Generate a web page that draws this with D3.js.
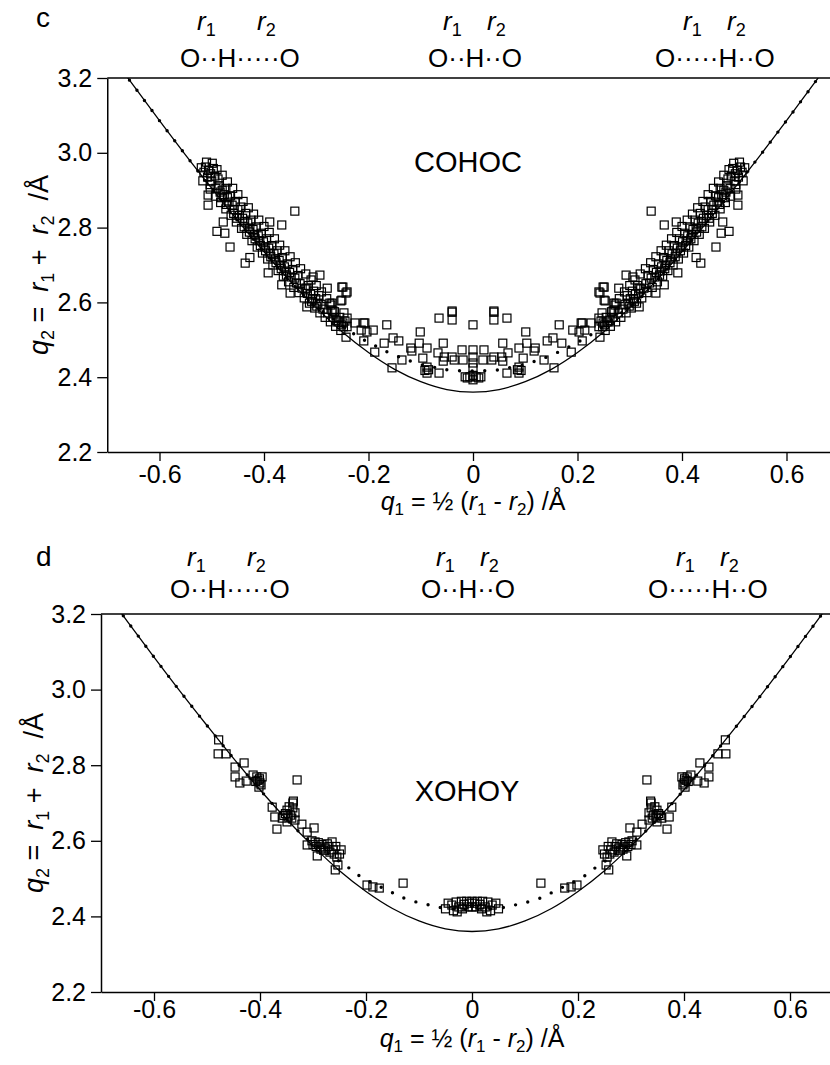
<!DOCTYPE html>
<html><head><meta charset="utf-8">
<script src="https://cdn.jsdelivr.net/npm/d3@7"></script>
<style>
body{margin:0;background:#fff}
svg{display:block}
text{font-family:"Liberation Sans",Arial,Helvetica,sans-serif;fill:#000}
</style>
</head><body>
<svg id="chart" width="830" height="1065"></svg>
<script>
// ---------- data ----------
const xTicks = [-0.6, -0.4, -0.2, 0, 0.2, 0.4, 0.6];
const xTickLabels = ["-0.6", "-0.4", "-0.2", "0", "0.2", "0.4", "0.6"];
const yTicks = [2.2, 2.4, 2.6, 2.8, 3.0, 3.2];
const yTickLabels = ["2.2", "2.4", "2.6", "2.8", "3.0", "3.2"];
const panelLetters = ["c", "d"];
const panelNames = ["COHOC", "XOHOY"];
const moleculeLabels = ["O\u00B7\u00B7H\u00B7\u00B7\u00B7\u00B7\u00B7O", "O\u00B7\u00B7H\u00B7\u00B7O", "O\u00B7\u00B7\u00B7\u00B7\u00B7H\u00B7\u00B7O"];

// correlation curve q2(q1)
const solidCurve = [[-0.70,3.276],[-0.65,3.180],[-0.60,3.086],[-0.55,2.994],[-0.50,2.905],[-0.45,2.818],[-0.40,2.735],[-0.35,2.657],[-0.30,2.586],[-0.25,2.521],[-0.20,2.466],[-0.15,2.421],[-0.10,2.388],[-0.05,2.367],[0,2.360],[0.05,2.367],[0.10,2.388],[0.15,2.421],[0.20,2.466],[0.25,2.521],[0.30,2.586],[0.35,2.657],[0.40,2.735],[0.45,2.818],[0.50,2.905],[0.55,2.994],[0.60,3.086],[0.65,3.180],[0.70,3.276]];

// dotted (corrected) curves
const cohocDotted = [[-0.70,3.276],[-0.65,3.180],[-0.60,3.086],[-0.55,2.994],[-0.50,2.905],[-0.45,2.818],[-0.40,2.735],[-0.34,2.641],[-0.31,2.600],[-0.285,2.573],[-0.26,2.548],[-0.235,2.522],[-0.209,2.500],[-0.186,2.483],[-0.163,2.467],[-0.136,2.451],[-0.115,2.441],[-0.09,2.430],[-0.067,2.425],[-0.046,2.419],[0,2.417],[0.046,2.419],[0.067,2.425],[0.09,2.430],[0.115,2.441],[0.136,2.451],[0.163,2.467],[0.186,2.483],[0.209,2.500],[0.235,2.522],[0.26,2.548],[0.285,2.573],[0.31,2.600],[0.34,2.641],[0.40,2.735],[0.45,2.818],[0.50,2.905],[0.55,2.994],[0.60,3.086],[0.65,3.180],[0.70,3.276]];
const xohoyDotted = [[-0.70,3.276],[-0.65,3.180],[-0.60,3.086],[-0.55,2.994],[-0.50,2.905],[-0.45,2.818],[-0.40,2.735],[-0.35,2.657],[-0.32,2.616],[-0.29,2.583],[-0.26,2.555],[-0.232,2.528],[-0.209,2.504],[-0.185,2.486],[-0.160,2.470],[-0.138,2.454],[-0.113,2.441],[-0.089,2.433],[-0.066,2.425],[-0.03,2.419],[0,2.418],[0.03,2.419],[0.066,2.425],[0.089,2.433],[0.113,2.441],[0.138,2.454],[0.160,2.470],[0.185,2.486],[0.209,2.504],[0.232,2.528],[0.26,2.555],[0.29,2.583],[0.32,2.616],[0.35,2.657],[0.40,2.735],[0.45,2.818],[0.50,2.905],[0.55,2.994],[0.60,3.086],[0.65,3.180],[0.70,3.276]];

// COHOC structures, q1 < 0
const cohocLeft = [[-0.520,2.960],[-0.515,2.948],[-0.512,2.962],[-0.506,2.953],[-0.508,2.935],[-0.502,2.944],[-0.497,2.958],[-0.500,2.925],[-0.494,2.938],[-0.503,2.915],[-0.488,2.930],[-0.492,2.905],[-0.486,2.912],[-0.484,2.895],[-0.480,2.900],[-0.476,2.888],[-0.482,2.880],[-0.473,2.905],[-0.470,2.880],[-0.467,2.868],[-0.472,2.862],[-0.464,2.885],[-0.461,2.860],[-0.457,2.848],[-0.455,2.870],[-0.458,2.838],[-0.450,2.848],[-0.447,2.832],[-0.452,2.825],[-0.444,2.855],[-0.441,2.825],[-0.437,2.815],[-0.435,2.838],[-0.438,2.802],[-0.431,2.812],[-0.427,2.798],[-0.425,2.820],[-0.428,2.788],[-0.421,2.795],[-0.418,2.782],[-0.415,2.802],[-0.417,2.770],[-0.411,2.778],[-0.408,2.765],[-0.405,2.785],[-0.407,2.752],[-0.401,2.762],[-0.398,2.748],[-0.395,2.770],[-0.397,2.738],[-0.391,2.745],[-0.388,2.732],[-0.385,2.752],[-0.387,2.722],[-0.381,2.730],[-0.378,2.716],[-0.375,2.738],[-0.377,2.706],[-0.371,2.712],[-0.368,2.700],[-0.365,2.720],[-0.367,2.690],[-0.361,2.695],[-0.358,2.684],[-0.355,2.703],[-0.357,2.673],[-0.351,2.680],[-0.348,2.668],[-0.345,2.688],[-0.341,2.665],[-0.338,2.652],[-0.335,2.672],[-0.331,2.650],[-0.327,2.638],[-0.321,2.636],[-0.317,2.624],[-0.315,2.645],[-0.311,2.622],[-0.307,2.610],[-0.305,2.630],[-0.309,2.603],[-0.301,2.610],[-0.297,2.598],[-0.295,2.618],[-0.299,2.590],[-0.291,2.595],[-0.287,2.582],[-0.278,2.572],[-0.268,2.560],[-0.265,2.575],[-0.262,2.552],[-0.258,2.548],[-0.255,2.560],[-0.252,2.540],[-0.248,2.535],[-0.245,2.550],
[-0.517,2.925],[-0.510,2.975],[-0.503,2.903],[-0.499,2.972],[-0.493,2.884],[-0.490,2.955],[-0.483,2.867],[-0.480,2.940],[-0.473,2.850],[-0.470,2.922],[-0.463,2.833],[-0.460,2.905],[-0.453,2.815],[-0.450,2.888],[-0.443,2.798],[-0.440,2.870],[-0.433,2.782],[-0.430,2.853],[-0.423,2.765],[-0.420,2.836],[-0.413,2.748],[-0.410,2.820],[-0.403,2.732],[-0.400,2.803],[-0.393,2.716],[-0.390,2.787],[-0.383,2.700],[-0.380,2.770],[-0.373,2.685],[-0.370,2.753],[-0.363,2.670],[-0.360,2.738],[-0.353,2.655],[-0.350,2.722],[-0.343,2.640],[-0.340,2.706],[-0.333,2.626],[-0.330,2.690],[-0.323,2.612],[-0.320,2.676],[-0.313,2.598],[-0.310,2.660],[-0.303,2.585],[-0.300,2.645],[-0.293,2.572],[-0.290,2.628],[-0.283,2.560],[-0.280,2.610],[-0.273,2.548],[-0.270,2.598],[-0.263,2.536],[-0.253,2.525],
[-0.341,2.844],[-0.478,2.815],[-0.490,2.790],[-0.475,2.785],[-0.465,2.748],[-0.507,2.860],[-0.507,2.887],[-0.389,2.815],[-0.366,2.807],[-0.436,2.705],[-0.427,2.720],[-0.293,2.673],[-0.306,2.668],[-0.251,2.641],[-0.241,2.628],[-0.251,2.606],[-0.274,2.598],[-0.270,2.580],[-0.318,2.588],[-0.165,2.540],[-0.153,2.505],[-0.207,2.545],[-0.191,2.526],[-0.366,2.647],[-0.350,2.625],[-0.392,2.679],
[-0.318,2.638],[-0.279,2.638],[-0.249,2.641],[-0.243,2.625],[-0.272,2.593],[-0.253,2.604],[-0.268,2.577],[-0.247,2.572],[-0.241,2.558],[-0.249,2.545],[-0.241,2.535],[-0.226,2.545],[-0.209,2.545],[-0.214,2.526],[-0.203,2.521],[-0.243,2.507],[-0.209,2.497],[-0.170,2.491],[-0.142,2.497],[-0.188,2.467],[-0.155,2.425],[-0.136,2.446],[-0.119,2.478],[-0.117,2.470],[-0.103,2.491],[-0.101,2.521],[-0.088,2.478],[-0.096,2.451],[-0.088,2.427],[-0.088,2.411],[-0.092,2.418],[-0.085,2.420],[-0.065,2.558],[-0.057,2.491],[-0.067,2.465],[-0.055,2.454],[-0.057,2.443],[-0.065,2.411],[-0.040,2.574],[-0.040,2.577],[-0.040,2.553],[-0.040,2.454],[-0.036,2.446],[-0.021,2.473],[-0.019,2.446],[-0.015,2.401],[-0.011,2.398],[-0.006,2.401]];
// COHOC structures at q1 = 0
const cohocCenter = [[0,2.473],[0,2.454],[0,2.438],[0,2.425],[0,2.540],[0,2.393],[0,2.405]];
// COHOC structures, q1 > 0
const cohocRight = [[0.520,2.960],[0.515,2.948],[0.512,2.962],[0.506,2.953],[0.508,2.935],[0.502,2.944],[0.497,2.958],[0.500,2.925],[0.494,2.938],[0.503,2.915],[0.488,2.930],[0.492,2.905],[0.486,2.912],[0.484,2.895],[0.480,2.900],[0.476,2.888],[0.482,2.880],[0.473,2.905],[0.470,2.880],[0.467,2.868],[0.472,2.862],[0.464,2.885],[0.461,2.860],[0.457,2.848],[0.455,2.870],[0.458,2.838],[0.450,2.848],[0.447,2.832],[0.452,2.825],[0.444,2.855],[0.441,2.825],[0.437,2.815],[0.435,2.838],[0.438,2.802],[0.431,2.812],[0.427,2.798],[0.425,2.820],[0.428,2.788],[0.421,2.795],[0.418,2.782],[0.415,2.802],[0.417,2.770],[0.411,2.778],[0.408,2.765],[0.405,2.785],[0.407,2.752],[0.401,2.762],[0.398,2.748],[0.395,2.770],[0.397,2.738],[0.391,2.745],[0.388,2.732],[0.385,2.752],[0.387,2.722],[0.381,2.730],[0.378,2.716],[0.375,2.738],[0.377,2.706],[0.371,2.712],[0.368,2.700],[0.365,2.720],[0.367,2.690],[0.361,2.695],[0.358,2.684],[0.355,2.703],[0.357,2.673],[0.351,2.680],[0.348,2.668],[0.345,2.688],[0.341,2.665],[0.338,2.652],[0.335,2.672],[0.331,2.650],[0.327,2.638],[0.321,2.636],[0.317,2.624],[0.315,2.645],[0.311,2.622],[0.307,2.610],[0.305,2.630],[0.309,2.603],[0.301,2.610],[0.297,2.598],[0.295,2.618],[0.299,2.590],[0.291,2.595],[0.287,2.582],[0.278,2.572],[0.268,2.560],[0.265,2.575],[0.262,2.552],[0.258,2.548],[0.255,2.560],[0.252,2.540],[0.248,2.535],[0.245,2.550],
[0.517,2.925],[0.510,2.975],[0.503,2.903],[0.499,2.972],[0.493,2.884],[0.490,2.955],[0.483,2.867],[0.480,2.940],[0.473,2.850],[0.470,2.922],[0.463,2.833],[0.460,2.905],[0.453,2.815],[0.450,2.888],[0.443,2.798],[0.440,2.870],[0.433,2.782],[0.430,2.853],[0.423,2.765],[0.420,2.836],[0.413,2.748],[0.410,2.820],[0.403,2.732],[0.400,2.803],[0.393,2.716],[0.390,2.787],[0.383,2.700],[0.380,2.770],[0.373,2.685],[0.370,2.753],[0.363,2.670],[0.360,2.738],[0.353,2.655],[0.350,2.722],[0.343,2.640],[0.340,2.706],[0.333,2.626],[0.330,2.690],[0.323,2.612],[0.320,2.676],[0.313,2.598],[0.310,2.660],[0.303,2.585],[0.300,2.645],[0.293,2.572],[0.290,2.628],[0.283,2.560],[0.280,2.610],[0.273,2.548],[0.270,2.598],[0.263,2.536],[0.253,2.525],
[0.341,2.844],[0.478,2.815],[0.490,2.790],[0.475,2.785],[0.465,2.748],[0.507,2.860],[0.507,2.887],[0.389,2.815],[0.366,2.807],[0.436,2.705],[0.427,2.720],[0.293,2.673],[0.306,2.668],[0.251,2.641],[0.241,2.628],[0.251,2.606],[0.274,2.598],[0.270,2.580],[0.318,2.588],[0.165,2.540],[0.153,2.505],[0.207,2.545],[0.191,2.526],[0.366,2.647],[0.350,2.625],[0.392,2.679],
[0.318,2.638],[0.279,2.638],[0.249,2.641],[0.243,2.625],[0.272,2.593],[0.253,2.604],[0.268,2.577],[0.247,2.572],[0.241,2.558],[0.249,2.545],[0.241,2.535],[0.226,2.545],[0.209,2.545],[0.214,2.526],[0.203,2.521],[0.243,2.507],[0.209,2.497],[0.170,2.491],[0.142,2.497],[0.188,2.467],[0.155,2.425],[0.136,2.446],[0.119,2.478],[0.117,2.470],[0.103,2.491],[0.101,2.521],[0.088,2.478],[0.096,2.451],[0.088,2.427],[0.088,2.411],[0.092,2.418],[0.085,2.420],[0.065,2.558],[0.057,2.491],[0.067,2.465],[0.055,2.454],[0.057,2.443],[0.065,2.411],[0.040,2.574],[0.040,2.577],[0.040,2.553],[0.040,2.454],[0.036,2.446],[0.021,2.473],[0.019,2.446],[0.015,2.401],[0.011,2.398],[0.006,2.401]];

// XOHOY structures
const xohoyLeft = [[-0.478,2.867],[-0.479,2.830],[-0.464,2.830],[-0.447,2.795],[-0.430,2.806],[-0.447,2.769],[-0.438,2.753],[-0.426,2.758],[-0.413,2.774],[-0.406,2.769],[-0.396,2.769],[-0.400,2.753],[-0.402,2.742],[-0.404,2.760],[-0.398,2.748],[-0.408,2.757],[-0.401,2.764],[-0.330,2.761],[-0.377,2.689],[-0.372,2.663],[-0.368,2.631],[-0.349,2.681],[-0.338,2.700],[-0.338,2.687],[-0.334,2.674],[-0.334,2.655],[-0.347,2.663],[-0.358,2.660],[-0.349,2.650],[-0.342,2.668],[-0.352,2.672],[-0.340,2.660],[-0.345,2.690],[-0.355,2.667],[-0.337,2.705],[-0.321,2.644],[-0.311,2.623],[-0.298,2.634],[-0.311,2.589],[-0.296,2.597],[-0.287,2.584],[-0.292,2.560],[-0.277,2.581],[-0.264,2.597],[-0.262,2.576],[-0.255,2.557],[-0.247,2.576],[-0.253,2.536],[-0.258,2.523],[-0.300,2.590],[-0.290,2.595],[-0.283,2.590],[-0.280,2.575],[-0.270,2.585],[-0.268,2.570],[-0.285,2.578],[-0.294,2.585],[-0.273,2.592],[-0.260,2.565],[-0.250,2.565],[-0.257,2.585],[-0.302,2.600],[-0.198,2.483],[-0.187,2.478],[-0.175,2.475],[-0.130,2.488]];
const xohoyCenter = [[-0.050,2.420],[-0.045,2.435],[-0.038,2.430],[-0.035,2.415],[-0.030,2.438],[-0.028,2.412],[-0.025,2.425],[-0.020,2.440],[-0.018,2.420],[-0.015,2.432],[-0.010,2.440],[-0.008,2.425],[-0.005,2.435],[0,2.440],[0,2.425],[0.005,2.435],[0.008,2.425],[0.010,2.440],[0.015,2.432],[0.018,2.420],[0.020,2.440],[0.025,2.425],[0.028,2.412],[0.030,2.438],[0.035,2.415],[0.038,2.430],[0.045,2.435],[0.050,2.420]];
const xohoyRight = [[0.478,2.867],[0.479,2.830],[0.464,2.830],[0.447,2.795],[0.430,2.806],[0.447,2.769],[0.438,2.753],[0.426,2.758],[0.413,2.774],[0.406,2.769],[0.396,2.769],[0.400,2.753],[0.402,2.742],[0.404,2.760],[0.398,2.748],[0.408,2.757],[0.401,2.764],[0.330,2.761],[0.377,2.689],[0.372,2.663],[0.368,2.631],[0.349,2.681],[0.338,2.700],[0.338,2.687],[0.334,2.674],[0.334,2.655],[0.347,2.663],[0.358,2.660],[0.349,2.650],[0.342,2.668],[0.352,2.672],[0.340,2.660],[0.345,2.690],[0.355,2.667],[0.337,2.705],[0.321,2.644],[0.311,2.623],[0.298,2.634],[0.311,2.589],[0.296,2.597],[0.287,2.584],[0.292,2.560],[0.277,2.581],[0.264,2.597],[0.262,2.576],[0.255,2.557],[0.247,2.576],[0.253,2.536],[0.258,2.523],[0.300,2.590],[0.290,2.595],[0.283,2.590],[0.280,2.575],[0.270,2.585],[0.268,2.570],[0.285,2.578],[0.294,2.585],[0.273,2.592],[0.260,2.565],[0.250,2.565],[0.257,2.585],[0.302,2.600],[0.198,2.483],[0.187,2.478],[0.175,2.475],[0.130,2.488]];

// ---------- layout ----------
const layouts = [
  {x0:473, sx:522.5, top:78, bottom:452, letter:[36,27], name:[468,172], tickPad:4,
   mol:[{ox:180, r1:197, r2:257},{ox:428, r1:443, r2:487},{ox:655, r1:683, r2:727}], rY:30, oY:67,
   yTitle:[48,265], xTitle:[473,510]},
  {x0:472, sx:530, top:614, bottom:992, letter:[36,566], name:[467,801], tickPad:-1,
   mol:[{ox:170, r1:187, r2:247},{ox:421, r1:436, r2:480},{ox:648, r1:676, r2:720}], rY:566, oY:598,
   yTitle:[43,803], xTitle:[472,1047]}
];
const panelData = [
  {points:[...cohocLeft, ...cohocCenter, ...cohocRight], dotted:cohocDotted},
  {points:[...xohoyLeft, ...xohoyCenter, ...xohoyRight], dotted:xohoyDotted}
];

const svg = d3.select("#chart");

// rich text: parts = [[text, 'i'|'s'|'n'], ...]  i = italic, s = subscript, n = normal
function rich(t, parts, subSize, shift) {
  let level = 0;
  parts.forEach(([txt, kind]) => {
    const want = kind === "s" ? shift : 0;
    const ts = t.append("tspan").text(txt);
    if (want !== level) { ts.attr("dy", want - level); level = want; }
    if (kind === "s") ts.attr("font-size", subSize);
    if (kind === "i") ts.attr("font-style", "italic");
  });
}

layouts.forEach((L, i) => {
  const g = svg.append("g");
  const x = d3.scaleLinear().domain([-0.7, 0.7]).range([L.x0 - 0.7 * L.sx, L.x0 + 0.7 * L.sx]);
  const y = d3.scaleLinear().domain([2.2, 3.2]).range([L.bottom, L.top]);
  const left = x(-0.7);

  const clipId = "clip" + i;
  svg.append("clipPath").attr("id", clipId).append("rect")
    .attr("x", left).attr("y", L.top).attr("width", 830 - left).attr("height", L.bottom - L.top);

  // axes
  const ax = g.append("g").attr("transform", `translate(0,${L.bottom})`)
    .call(d3.axisBottom(x).tickValues(xTicks).tickSize(9).tickSizeOuter(0).tickPadding(L.tickPad)
      .tickFormat((d, k) => xTickLabels[k]));
  const ay = g.append("g").attr("transform", `translate(${left},0)`)
    .call(d3.axisLeft(y).tickValues(yTicks).tickSize(10).tickSizeOuter(0).tickPadding(5)
      .tickFormat((d, k) => yTickLabels[k]));
  [ax, ay].forEach(a => {
    a.selectAll("text").attr("font-size", 25).attr("font-family", "'Liberation Sans',Arial,sans-serif").attr("fill", "#000");
    a.selectAll("line").attr("stroke", "#000").attr("stroke-width", 1.3);
    a.select(".domain").attr("stroke", "#000").attr("stroke-width", 1.5);
  });
  g.append("line").attr("x1", left).attr("x2", 830).attr("y1", y(3.2)).attr("y2", y(3.2))
    .attr("stroke", "#000").attr("stroke-width", 1.5);

  const plot = g.append("g").attr("clip-path", `url(#${clipId})`);
  const line = d3.line().x(d => x(d[0])).y(d => y(d[1])).curve(d3.curveCatmullRom);

  plot.append("path").datum(solidCurve).attr("d", line)
    .attr("fill", "none").attr("stroke", "#000").attr("stroke-width", 1.3);
  plot.append("path").datum(panelData[i].dotted).attr("d", line)
    .attr("fill", "none").attr("stroke", "#000").attr("stroke-width", 3.4)
    .attr("stroke-linecap", "round").attr("stroke-dasharray", "0,12.6");

  const s = 8;
  plot.selectAll("rect.pt").data(panelData[i].points).join("rect").attr("class", "pt")
    .attr("x", d => x(d[0]) - s / 2).attr("y", d => y(d[1]) - s / 2)
    .attr("width", s).attr("height", s)
    .attr("fill", "none").attr("stroke", "#000").attr("stroke-width", 1.2);

  // panel letter
  g.append("text").attr("x", L.letter[0]).attr("y", L.letter[1])
    .attr("font-family", "'Liberation Serif','Times New Roman',serif").attr("font-size", 28)
    .text(panelLetters[i]);
  // name
  g.append("text").attr("x", L.name[0]).attr("y", L.name[1]).attr("text-anchor", "middle")
    .attr("font-size", 29).text(panelNames[i]);

  // molecule labels
  L.mol.forEach((m, k) => {
    g.append("text").attr("x", m.ox).attr("y", L.oY).attr("font-size", 26).text(moleculeLabels[k]);
    rich(g.append("text").attr("x", m.r1).attr("y", L.rY).attr("font-size", 26), [["r","i"],["1","s"]], 18, 6);
    rich(g.append("text").attr("x", m.r2).attr("y", L.rY).attr("font-size", 26), [["r","i"],["2","s"]], 18, 6);
  });

  // y title
  const yt = g.append("text").attr("transform", `translate(${L.yTitle[0]},${L.yTitle[1]}) rotate(-90)`)
    .attr("text-anchor", "middle").attr("font-size", 27);
  rich(yt, [["q","i"],["2","s"],["\u00A0=\u00A0\u00A0","n"],["r","i"],["1","s"],["\u00A0+\u00A0\u00A0","n"],["r","i"],["2","s"],["\u00A0\u00A0/\u00C5","n"]], 18, 6);

  // x title
  const xt = g.append("text").attr("x", L.xTitle[0]).attr("y", L.xTitle[1])
    .attr("text-anchor", "middle").attr("font-size", 25);
  rich(xt, [["q","i"],["1","s"],["\u00A0=\u00A0\u00BD\u00A0(","n"],["r","i"],["1","s"],["\u00A0-\u00A0","n"],["r","i"],["2","s"],[")\u00A0/\u00C5","n"]], 17, 5);
});
</script>
</body></html>
